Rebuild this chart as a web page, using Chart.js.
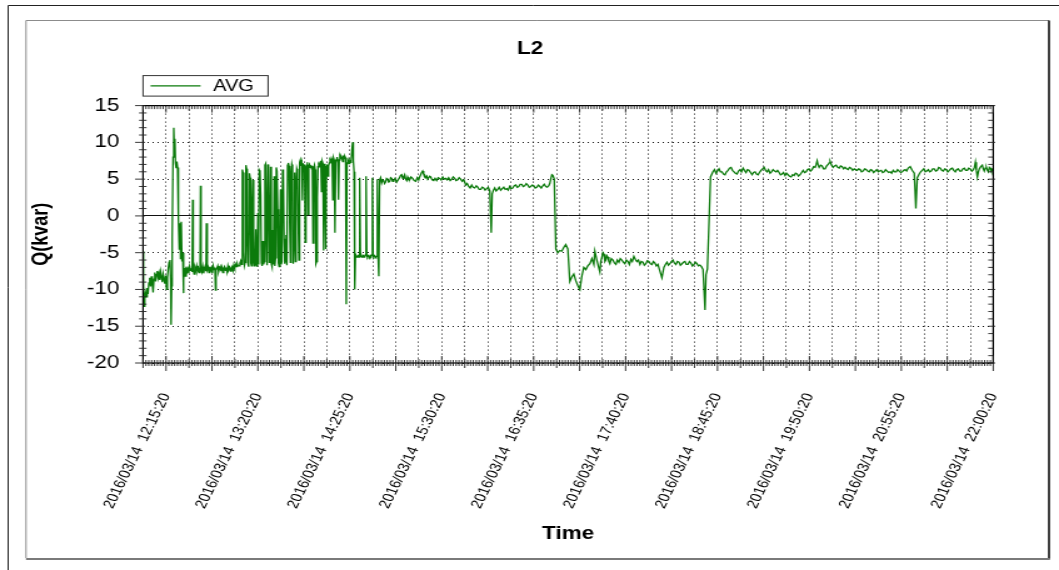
<!DOCTYPE html>
<html lang="en">
<head>
<meta charset="utf-8">
<title>L2 - Q(kvar)</title>
<script src="https://cdn.jsdelivr.net/npm/chart.js@4.4.1/dist/chart.umd.min.js"></script>
<style>
    html, body { margin: 0; padding: 0; background: #ffffff; overflow: hidden; }
</style>
</head>
<body>
<!-- the source picture is stretched 1.25x horizontally, so the canvas is too -->
<canvas id="qChart" width="847" height="570" style="width:1059px;height:570px"></canvas>
<script>
const chartTitle = 'L2';
const seriesLabel = 'AVG';
const dateLabel = '2016/03/14';
const timeLabels = ['12:15:20', '13:20:20', '14:25:20', '15:30:20', '16:35:20',
                    '17:40:20', '18:45:20', '19:50:20', '20:55:20', '22:00:20'];
const yTicks = [-20, -15, -10, -5, 0, 5, 10, 15];

// minutes after 12:00:00
const minutes = [
    -0.9, -0.6, -0.2, 0.3, 0.8, 1.4, 2.0, 2.6, 3.2, 3.8,
    4.4, 5.0, 5.6, 6.2, 6.8, 7.4, 8.0, 8.5, 9.1, 9.7,
    10.3, 10.9, 11.5, 12.1, 12.7, 13.3, 13.9, 14.5, 15.1, 15.7,
    16.3, 16.9, 17.5, 18.1, 18.6, 18.9, 19.3, 19.7, 20.3, 20.8,
    21.2, 21.6, 22.0, 22.5, 23.0, 23.5, 23.9, 24.3, 24.7, 25.2,
    25.6, 26.1, 26.6, 27.1, 27.6, 27.9, 28.4, 29.0, 29.6, 30.2,
    30.8, 31.4, 32.0, 32.6, 33.2, 33.8, 34.2, 34.6, 35.2, 35.8,
    36.4, 37.0, 37.6, 38.2, 38.8, 39.4, 39.7, 40.1, 40.7, 41.3,
    41.9, 42.5, 43.1, 43.6, 43.9, 44.5, 45.1, 45.7, 46.3, 46.9,
    47.5, 48.1, 48.7, 49.3, 49.9, 50.3, 50.7, 51.3, 51.9, 52.5,
    53.1, 53.7, 54.3, 54.9, 55.5, 56.1, 56.7, 57.3, 57.9, 58.5,
    59.1, 59.7, 60.3, 60.9, 61.5, 62.1, 62.7, 63.3, 63.9, 64.5,
    65.1, 65.7, 66.3,
    67.0, 67.6, 68.2, 68.8, 69.3, 69.8, 70.3, 70.8, 71.3, 71.8,
    72.3, 72.8, 73.3, 73.8, 74.3, 74.8, 75.3, 75.8, 76.3, 76.8,
    77.3, 77.8, 78.3, 78.8, 79.3, 79.8, 80.3, 80.8, 81.3, 81.8,
    82.3, 82.8, 83.3, 83.8, 84.3, 84.8, 85.3, 85.8, 86.3, 86.8,
    87.3, 87.8, 88.3, 88.8, 89.3, 89.8, 90.3, 90.8, 91.3, 91.8,
    92.3, 92.8, 93.3, 93.8, 94.3, 94.8, 95.3, 95.8, 96.3, 96.8,
    97.3, 97.8, 98.3, 98.8, 99.3, 99.8, 100.3, 100.8, 101.3, 101.8,
    102.3, 102.8, 103.3, 103.8, 104.3, 104.8, 105.3, 105.8, 106.3, 106.8,
    107.3, 107.8, 108.3, 108.8, 109.3, 109.8, 110.3, 110.8, 111.3, 111.8,
    112.3, 112.8, 113.3, 113.8, 114.3, 114.8, 115.3, 115.8, 116.3, 116.8,
    117.3, 117.8, 118.3, 118.8, 119.3, 119.8, 120.3, 120.8, 121.3, 121.8,
    122.3, 122.8, 123.3, 123.8, 124.3, 124.8, 125.3, 125.8, 126.3, 126.8,
    127.3, 127.8, 128.3, 128.8, 129.3, 129.8, 130.3, 130.8, 131.3, 131.8,
    132.3, 132.8, 133.3, 133.8, 134.3, 134.8, 135.3, 135.8, 136.3, 136.8,
    137.3, 137.8, 138.3, 138.8, 139.3, 139.8, 140.3, 140.8, 141.3, 141.8,
    142.3, 142.8, 143.3, 143.8, 144.3, 144.8, 145.3, 145.8, 146.3, 146.8,
    147.3, 147.8, 148.3, 148.8, 149.3, 149.8, 150.3, 150.8, 151.3, 151.8,
    152.3, 152.8, 153.3, 153.8, 154.3, 154.8, 155.3, 155.8, 156.3, 156.8,
    157.3, 157.8, 158.3, 158.8, 159.3, 159.8, 160.3, 160.8, 161.3, 161.8,
    162.3, 162.8, 163.3, 163.8, 164.3, 164.8, 165.3, 165.8,
    166.4, 167.1, 167.8, 168.5, 169.2, 169.9, 170.6, 171.3, 172.0, 172.8,
    173.5, 174.2, 174.9, 175.6, 176.3, 177.3, 178.4, 179.4, 180.5, 181.2,
    182.0, 182.7, 183.4, 184.1, 184.8, 185.5, 186.2, 186.9, 187.6, 188.6,
    189.7, 190.8, 191.9, 193.0, 194.0, 194.7, 195.4, 196.1, 196.8, 197.5,
    198.2, 198.9, 199.7, 200.4, 201.1, 201.8, 202.5, 203.5, 204.6, 205.6,
    206.7, 207.8, 208.9, 209.9, 211.0, 212.0, 213.1, 214.1, 215.2, 216.3,
    217.4, 218.4, 219.5, 220.5, 221.6, 222.6, 223.7, 224.8, 225.9, 226.6,
    227.3, 228.3, 229.4, 230.4, 231.5, 232.5, 233.6, 234.7, 235.8, 236.8,
    237.9, 238.9, 240.0, 241.0, 242.1, 243.2, 244.3, 245.3, 246.0, 246.9,
    247.8, 248.8, 249.9, 250.9, 252.0, 253.1, 254.2, 255.2,
    256.3, 257.3, 258.4, 259.4, 260.5, 261.6, 262.7, 263.7, 264.8, 265.8,
    266.9, 267.9, 269.0, 270.1, 271.2, 272.2, 273.3, 274.3, 275.4, 276.4,
    277.5, 278.6, 279.7, 280.7, 281.8, 282.8, 283.9, 284.9, 286.0, 286.7,
    287.4, 288.2, 288.9, 289.9, 291.0, 292.4,
    293.8, 295.2, 296.6, 298.0, 299.5, 300.9, 302.3, 303.7, 305.1, 306.6,
    308.0, 309.4, 310.8, 312.2, 313.6, 315.1, 316.5, 317.9, 318.6, 320.0,
    322.1, 322.8, 323.6, 324.3, 325.0, 325.7, 326.4, 327.1, 327.8, 328.5,
    329.2, 330.3, 331.4, 332.4, 333.5, 334.5, 335.6, 336.6, 337.7, 338.7,
    339.8, 340.9, 342.0, 343.0, 344.1, 345.1, 346.2, 347.2, 348.3, 349.4,
    350.5, 351.5, 352.6, 353.6, 354.7, 355.7, 356.8, 357.9, 359.0, 360.0,
    361.1, 362.1, 363.2, 364.6, 366.0, 367.4, 368.5, 369.6, 370.6, 371.7,
    372.7, 373.8, 374.8, 375.9, 377.0, 378.1, 379.1,
    380.2, 381.2, 382.3, 383.3, 384.4, 385.5, 386.6, 387.6, 388.7, 389.7,
    390.8, 391.8, 392.9, 394.0, 395.1, 396.5, 397.2,
    398.2, 399.3, 400.4,
    402.1, 403.2, 404.3, 405.3, 406.4, 407.4, 408.5, 409.5, 410.6, 411.7,
    412.8, 413.8, 414.9, 415.9, 417.0, 418.0, 419.1, 420.2, 421.3, 422.3,
    423.4, 424.4, 425.5, 426.5, 427.6, 428.7, 429.8, 430.8, 431.9, 432.9,
    434.0, 435.0, 436.1, 437.2, 438.3, 439.3, 440.4, 441.4, 442.5, 443.5,
    444.6, 445.7, 446.8, 447.8, 448.9, 449.9, 451.0, 452.0, 453.1, 454.1,
    455.2, 456.3, 457.4, 458.4, 459.5, 460.5, 461.6, 462.6, 463.7, 464.8,
    465.9, 466.9, 468.0, 469.0, 470.1, 471.1, 472.2, 473.3, 474.4, 475.1,
    475.8, 476.5, 477.2, 478.2, 479.3, 480.3, 481.4, 482.5, 483.6, 484.3,
    485.0, 486.0, 487.1, 488.1, 489.2, 490.3, 491.4, 492.4, 493.5, 494.5,
    495.6, 496.6, 497.7, 498.7, 499.8, 500.9, 502.0, 503.0, 504.1, 505.1,
    506.2, 507.2, 508.3, 509.4, 510.5, 511.5, 512.6, 513.6, 514.7, 515.7,
    516.8, 517.9, 519.0, 520.0, 521.1, 522.1, 523.2, 524.2, 525.3, 526.4,
    527.5, 528.5, 529.6, 530.6, 531.7, 532.7, 533.8, 534.9, 536.0, 537.0,
    538.1, 539.1, 540.2, 541.6, 543.0, 544.5,
    545.6, 546.6, 548.0, 549.0, 550.1, 551.2, 552.3, 553.3, 554.4, 555.4,
    556.5, 557.5, 558.6, 559.7, 560.8, 561.8, 562.9, 563.9,
    565.0, 566.0, 567.1, 568.2, 569.3, 570.3, 571.4, 572.4, 573.5, 574.5,
    575.6, 576.7, 577.8, 578.8, 579.9, 580.9, 582.0, 583.0, 584.1, 585.2,
    586.3, 587.0, 587.7, 588.4, 589.1, 589.8, 590.5, 591.5, 592.6, 593.3,
    594.0, 594.7, 595.5, 596.2, 596.9, 597.6, 598.3, 599.0, 599.7, 600.3
];

const kvar = [
    -4.8, -9.5, -12.3, -11.2, -10.4, -11.0, -9.8, -10.6, -9.1, -8.4,
    -9.6, -8.2, -9.3, -10.4, -8.6, -7.7, -8.9, -8.0, -7.5, -8.4,
    -7.8, -8.7, -7.6, -8.3, -9.0, -7.9, -8.6, -9.2, -8.1, -10.0,
    -8.4, -7.2, -6.3, -6.0, -8.8, -14.8, -9.5, -3.0, 8.0, 12.0,
    9.2, 10.5, 7.2, 6.5, 7.4, 6.6, 3.5, -0.5, -4.5, -1.0,
    -5.8, -0.8, -6.2, -5.0, -10.5, -8.6, -7.1, -8.2, -6.9, -7.6,
    -7.2, -7.8, -6.9, -7.4, -7.1, -7.6, 2.2, -7.3, -7.9, -7.0,
    -7.4, -6.8, -7.5, -7.1, -7.7, -6.9, 4.1, -7.2, -7.6, -6.9,
    -7.8, -7.2, -6.8, -7.5, -1.0, -7.3, -7.0, -7.7, -6.9, -7.4,
    -7.1, -7.8, -6.8, -7.3, -7.0, -10.1, -7.4, -7.1, -6.8, -7.6,
    -7.2, -6.9, -7.5, -7.0, -7.7, -7.1, -6.9, -7.4, -7.0, -7.6,
    -6.8, -7.3, -7.0, -7.5, -7.1, -6.9, -7.4, -6.7, -7.1, -6.6,
    -6.9, -6.5, -6.8,
    -6.8, -6.4, -6.1, -6.6, 6.3, 5.9, -4.8, -6.7, -6.3, 6.9,
    6.4, -2.8, -6.5, -6.9, 5.8, 5.2, -6.4, -6.8, 1.2, 4.9,
    -6.2, -6.8, -5.9, -1.8, -6.5, -6.9, 0.4, -6.6, 6.2, 6.0,
    2.8, -6.4, -6.8, -3.4, -6.6, -6.2, 6.9, 7.1, -2.4, -6.7,
    7.0, 6.6, -6.3, -4.1, 6.7, -6.5, -6.9, -1.9, -6.6, 5.4,
    -6.8, -5.7, 6.6, 6.1, 0.9, -6.4, -6.9, -4.0, 3.6, -6.6,
    -6.2, 6.3, 5.7, -3.1, -6.5, -6.0, -2.6, -6.7, 6.9, 7.2,
    6.8, -1.2, -6.3, 5.6, 7.0, 6.5, -6.5, -3.3, 5.9, -6.2,
    4.4, 6.4, 6.0, -0.6, -6.0, 7.3, 7.6, 6.8, 7.2, 2.1,
    7.1, 6.5, 7.0, -3.6, 6.6, 6.9, 7.3, 0.2, 6.8, 7.0,
    6.6, 6.9, 6.4, 6.8, -3.7, 6.5, 6.9, 6.3, -6.5, -6.2,
    2.5, 6.7, 7.0, 6.8, 7.3, 7.5, 3.3, 7.4, 7.1, -4.7,
    6.9, 7.1, -4.5, 6.7, 7.0, 5.4, 6.8, 7.2, 7.6, 7.4,
    7.8, 7.5, 2.2, 7.9, 7.6, -2.3, 7.2, 7.7, 8.0, 7.5,
    2.2, 7.6, 8.1, 7.8, 8.1, 7.9, 7.4, 8.2, 7.8, 8.1,
    7.9, -12.0, 7.0, 7.2, 7.4, 7.1, 7.5, 7.3, 7.6, 9.0,
    10.0, 7.5, 6.0, -10.0, -5.5, -5.4, -5.6, -5.5, -5.4, -5.6,
    5.2, -5.5, -5.3, -5.6, -5.5, -5.4, -5.6, -5.5, -5.3, 5.4,
    -5.5, -5.6, -5.4, -5.5, -5.6, -5.4, -5.5, -5.3, 5.2, -5.5,
    -5.6, -5.4, -5.5, -5.6, -5.5, 5.0, -5.6, -8.2,
    4.9, 5.2, 4.5, 4.9, 4.8, 4.4, 4.6, 5.1, 5.0, 4.6,
    4.7, 5.2, 5.1, 4.7, 4.8, 5.1, 4.6, 4.9, 5.2, 5.5,
    5.6, 5.1, 5.3, 5.6, 5.0, 4.8, 5.3, 5.0, 4.9, 5.3,
    5.1, 4.8, 4.7, 5.2, 4.9, 5.3, 5.6, 5.9, 6.1, 5.7,
    5.6, 5.2, 5.4, 5.0, 5.0, 5.4, 5.3, 4.9, 4.8, 5.1,
    4.8, 5.2, 5.1, 4.9, 5.3, 5.0, 5.1, 4.9, 5.2, 4.8,
    5.0, 5.3, 5.1, 4.8, 4.9, 5.2, 5.0, 4.7, 4.9, 4.6,
    4.2, 4.4, 4.0, 3.8, 4.2, 3.9, 3.8, 4.1, 3.9, 3.6,
    3.6, 3.9, 3.8, 3.5, 3.7, 3.9, 3.4, -2.3, 3.0, 3.5,
    3.8, 3.4, 3.6, 3.9, 3.5, 3.7, 3.9, 3.6,
    3.7, 3.5, 4.0, 3.7, 3.8, 4.1, 4.2, 3.9, 4.0, 4.3,
    4.3, 4.0, 4.1, 4.4, 4.2, 3.9, 4.0, 4.2, 4.1, 3.8,
    3.9, 4.2, 4.0, 3.8, 4.1, 4.3, 4.0, 3.9, 4.1, 4.4,
    5.0, 5.6, 5.5, 5.0, -4.5, -5.0,
    -4.7, -4.8, -4.3, -3.9, -4.5, -8.9, -8.3, -7.9, -8.8, -9.5,
    -10.0, -8.2, -7.0, -7.3, -6.8, -6.5, -5.8, -6.6, -4.8, -6.0,
    -7.6, -6.2, -5.6, -5.0, -5.2, -6.2, -6.0, -5.4, -5.6, -6.2,
    -6.5, -5.8, -6.0, -6.4, -6.6, -6.0, -6.3, -5.8, -6.0, -6.3,
    -6.5, -6.0, -6.2, -6.6, -5.9, -6.2, -5.5, -5.9, -6.2, -6.0,
    -6.6, -6.2, -6.3, -6.7, -6.5, -6.1, -6.2, -6.5, -6.6, -6.2,
    -6.4, -6.8, -6.6, -7.5, -8.4, -7.0, -6.6, -6.3, -6.7, -6.5,
    -6.2, -6.0, -6.4, -6.6, -6.2, -6.3, -6.7,
    -6.5, -6.3, -6.2, -6.6, -6.6, -6.2, -6.4, -6.8, -6.6, -6.3,
    -6.5, -6.8, -6.7, -6.9, -7.3, -12.8, -8.0,
    -7.2, -1.0, 5.3,
    6.0, 6.3, 5.8, 6.1, 6.4, 6.0, 6.0, 5.7, 5.6, 6.0,
    6.2, 6.5, 6.6, 6.2, 6.0, 5.8, 5.7, 6.1, 6.3, 6.0,
    6.5, 6.2, 5.9, 6.3, 6.2, 5.9, 5.6, 5.9, 6.0, 5.7,
    5.6, 5.9, 6.2, 6.4, 6.6, 6.2, 6.0, 6.3, 5.8, 6.0,
    6.3, 6.1, 6.0, 6.2, 5.9, 5.6, 5.7, 5.9, 5.5, 5.8,
    5.6, 5.4, 5.3, 5.6, 5.5, 5.8, 5.7, 5.4, 5.6, 5.9,
    6.2, 5.9, 6.0, 6.3, 6.4, 6.1, 6.3, 6.7, 6.6, 7.0,
    7.5, 6.9, 6.6, 6.9, 6.8, 6.4, 6.4, 6.8, 7.0, 7.2,
    7.4, 6.9, 6.6, 6.8, 6.9, 6.6, 6.5, 6.8, 6.7, 6.4,
    6.6, 6.4, 6.3, 6.6, 6.5, 6.2, 6.4, 6.3, 6.2, 6.4,
    6.3, 6.0, 6.1, 6.4, 6.3, 6.1, 6.0, 6.3, 6.2, 5.9,
    6.1, 6.3, 6.0, 6.1, 6.2, 5.9, 6.0, 6.3, 6.1, 5.9,
    6.0, 5.8, 6.2, 6.0, 6.0, 6.3, 6.1, 5.9, 6.0, 6.2,
    6.3, 6.1, 6.5, 6.7, 6.2, 5.8,
    1.0, 5.2, 5.7, 6.0, 6.2, 6.4, 6.0, 6.1, 6.3, 6.0,
    6.1, 6.4, 6.4, 6.1, 6.2, 6.6, 6.5, 6.2,
    6.1, 6.4, 6.3, 6.0, 6.2, 6.4, 6.5, 6.2, 6.0, 6.3,
    6.4, 6.1, 6.1, 6.4, 6.5, 6.2, 6.2, 6.5, 6.4, 6.1,
    6.3, 6.6, 7.3, 6.2, 5.3, 6.0, 6.4, 6.7, 6.9, 6.4,
    6.1, 6.5, 6.6, 6.2, 6.0, 6.6, 6.5, 6.1, 6.2, 6.4
];

function toMinutes(t) {
    const [h, m, s] = t.split(':').map(Number);
    return (h - 12) * 60 + m + s / 60;
}

const xStart = toMinutes('11:59:05');
const xEnd = toMinutes('22:00:20');
const gridStep = 16.25;
const subTicks = 8;
const labelMinutes = timeLabels.map(toMinutes);
const fontFamily = '"Liberation Sans", Arial, Helvetica, sans-serif';

Chart.defaults.font.family = fontFamily;
Chart.defaults.color = '#000';

const points = [];
for (let i = 0; i < Math.min(minutes.length, kvar.length); i++) {
    points.push({ x: minutes[i], y: kvar[i] });
}

function dotted(ctx) {
    return (ctx.tick && ctx.tick.value === 0) ? [] : [1, 3];
}

function strokeLine(ctx, x1, y1, x2, y2) {
    ctx.beginPath();
    ctx.moveTo(x1, y1);
    ctx.lineTo(x2, y2);
    ctx.stroke();
}

const framePlugin = {
    id: 'frame',
    beforeDraw(chart) {
        const ctx = chart.ctx;
        ctx.save();
        ctx.fillStyle = '#fff';
        ctx.fillRect(0, 0, chart.width, chart.height);

        ctx.strokeStyle = '#222';
        ctx.lineWidth = 1;
        strokeLine(ctx, 6.5, chart.height, 6.5, 5.5);
        strokeLine(ctx, 6.5, 5.5, chart.width, 5.5);

        ctx.strokeStyle = '#8c8c8c';
        strokeLine(ctx, 20.8, 558, 20.8, 20.5);
        strokeLine(ctx, 20.8, 20.5, 839, 20.5);
        ctx.strokeStyle = '#111';
        ctx.lineWidth = 1.6;
        strokeLine(ctx, 839, 20.5, 839, 559);
        ctx.strokeStyle = '#7a7a7a';
        ctx.lineWidth = 2;
        strokeLine(ctx, 20.8, 559, 839.8, 559);
        ctx.restore();
    },
    afterDraw(chart) {
        const ctx = chart.ctx;
        const area = chart.chartArea;
        const xs = chart.scales.x;
        const ys = chart.scales.y;
        ctx.save();

        // plot frame
        ctx.strokeStyle = '#000';
        ctx.lineWidth = 1.2;
        ctx.strokeRect(area.left, area.top, area.right - area.left, area.bottom - area.top);

        // minor / major tick marks
        ctx.strokeStyle = '#222';
        ctx.lineWidth = 0.9;
        for (let k = 0; ; k++) {
            const t = xStart + k * gridStep / subTicks;
            if (t > xEnd + 1e-6) break;
            const px = xs.getPixelForValue(t);
            let up = 3, down = 3, topLen = 3.5;
            if (k % subTicks === 0) {
                if ((k / subTicks) % 2 === 1) { up = 7; down = 8; topLen = 7; }
                else { up = 4; down = 5; topLen = 5; }
            }
            strokeLine(ctx, px, area.bottom - up, px, area.bottom + down);
            strokeLine(ctx, px, area.top, px, area.top + topLen);
        }
        for (let v = ys.min; v <= ys.max; v++) {
            const py = ys.getPixelForValue(v);
            if (v % 5 === 0) {
                strokeLine(ctx, area.left - 6.4, py, area.left + 1.6, py);
                strokeLine(ctx, area.right - 4, py, area.right + 1.6, py);
            } else {
                strokeLine(ctx, area.left - 3.2, py, area.left + 2.8, py);
                strokeLine(ctx, area.right - 4, py, area.right, py);
            }
        }

        // legend box
        const ds = chart.data.datasets[0];
        const lx = area.left, ly = area.top - 30, lw = 100, lh = 20.5;
        ctx.strokeStyle = '#333';
        ctx.lineWidth = 1;
        ctx.strokeRect(lx, ly, lw, lh);
        ctx.strokeStyle = ds.borderColor;
        ctx.lineWidth = 1.2;
        strokeLine(ctx, lx + 6, ly + lh / 2, lx + 46, ly + lh / 2);
        ctx.fillStyle = '#000';
        ctx.font = '16px ' + fontFamily;
        ctx.textBaseline = 'middle';
        ctx.textAlign = 'left';
        ctx.fillText(ds.label, lx + 56, ly + lh / 2 + 1);
        ctx.restore();
    }
};

const qCtx = document.getElementById('qChart').getContext('2d');
new Chart(qCtx, {
    type: 'line',
    data: {
        datasets: [{
            label: seriesLabel,
            data: points,
            borderColor: '#0b7a0b',
            borderWidth: 1.3,
            pointRadius: 0,
            tension: 0,
            fill: false
        }]
    },
    options: {
        responsive: false,
        devicePixelRatio: 1,
        animation: false,
        events: [],
        layout: {
            padding: { left: 20.8, right: 19.8, top: 20, bottom: 11 }
        },
        plugins: {
            legend: { display: false },
            tooltip: { enabled: false },
            title: {
                display: true,
                text: chartTitle,
                color: '#000',
                font: { size: 18, weight: 'bold' },
                padding: { top: 18, bottom: 46 }
            }
        },
        scales: {
            x: {
                type: 'linear',
                position: 'bottom',
                min: xStart,
                max: xEnd,
                afterBuildTicks(scale) {
                    const ticks = [];
                    for (let k = 0; xStart + k * gridStep <= xEnd + 1e-6; k++) {
                        ticks.push({ value: xStart + k * gridStep });
                    }
                    scale.ticks = ticks;
                },
                afterFit(scale) {
                    scale.height = 196;
                },
                ticks: {
                    autoSkip: false,
                    minRotation: 68,
                    maxRotation: 68,
                    padding: 28,
                    font: { size: 13 },
                    color: '#000',
                    callback(value) {
                        const i = labelMinutes.findIndex(m => Math.abs(m - value) < 0.01);
                        return i >= 0 ? dateLabel + '  ' + timeLabels[i] : '';
                    }
                },
                grid: {
                    color: '#111',
                    lineWidth: 1,
                    drawTicks: false,
                    borderDash: dotted
                },
                border: { display: false, dash: dotted },
                title: {
                    display: true,
                    text: 'Time',
                    color: '#000',
                    font: { size: 18, weight: 'bold' },
                    padding: { top: 0, bottom: 14 }
                }
            },
            y: {
                position: 'left',
                min: -20,
                max: 15,
                afterBuildTicks(scale) {
                    scale.ticks = yTicks.map(v => ({ value: v }));
                },
                afterFit(scale) {
                    scale.width = 93.6;
                },
                ticks: {
                    padding: 19,
                    font: { size: 18 },
                    color: '#000'
                },
                grid: {
                    color: '#111',
                    lineWidth: 1,
                    drawTicks: false,
                    borderDash: dotted
                },
                border: { display: false, dash: dotted },
                title: {
                    display: true,
                    text: 'Q(kvar)',
                    color: '#000',
                    font: { size: 18, weight: 'bold' },
                    padding: { top: 1, bottom: 0 }
                }
            },
            yRight: {
                position: 'right',
                min: -20,
                max: 15,
                ticks: { display: false },
                grid: { drawOnChartArea: false, drawTicks: false },
                border: { display: false },
                afterFit(scale) {
                    scale.width = 32.8;
                }
            }
        }
    },
    plugins: [framePlugin]
});
</script>
</body>
</html>
